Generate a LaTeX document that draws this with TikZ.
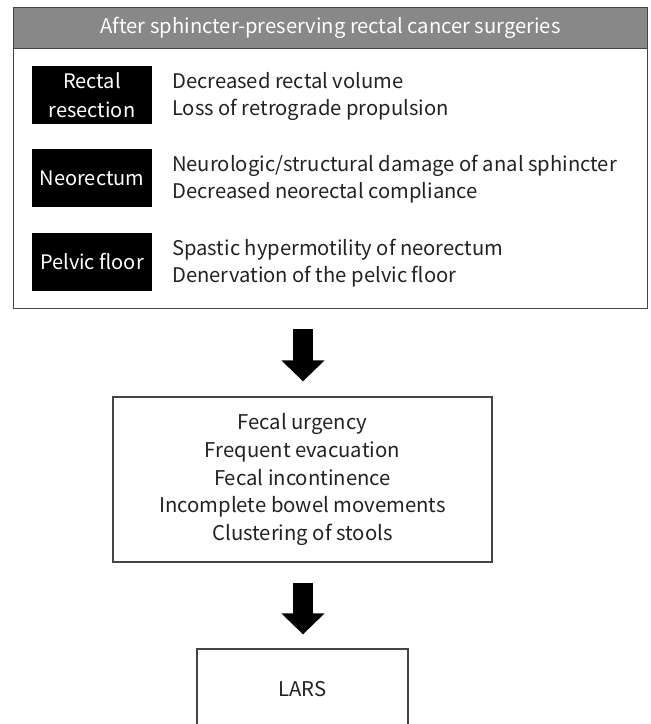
\documentclass[tikz,border=0pt]{standalone}
\usepackage{fontspec}
\setmainfont{Noto Sans CJK KR}
\usetikzlibrary{arrows.meta,positioning}
\definecolor{headgray}{HTML}{888888}
\definecolor{framegray}{HTML}{444444}
\definecolor{txt}{HTML}{222222}
\begin{document}
\begin{tikzpicture}[x=1pt,y=-1pt,
  frame/.style={draw=framegray,line width=1.3pt},
  blackbox/.style={fill=black,text=white,minimum width=120pt,minimum height=58pt,inner sep=0pt,align=center,font=\fontsize{20}{29}\selectfont},
  desc/.style={anchor=west,inner sep=0pt,align=left,text=txt,font=\fontsize{20.2}{27}\selectfont},
  bigarrow/.style={line width=20.5pt,-{Triangle[width=42pt,length=21pt]}}
]
\useasboundingbox (0,0) rectangle (651,724);
% outer box with header
\node[frame,minimum width=634pt,minimum height=301pt,inner sep=0pt,anchor=north west] (outer) at (13,7) {};
\node[fill=headgray,draw=framegray,line width=1.3pt,minimum width=634pt,minimum height=41pt,inner sep=0pt,anchor=north west,text=white,font=\fontsize{20.2}{22}\selectfont] (head) at (13,7) {After sphincter-preserving rectal cancer surgeries};
% black labels
\node[blackbox] (b1) at (92,95) {Rectal\\resection};
\node[blackbox] (b2) at (92,178) {Neorectum};
\node[blackbox] (b3) at (92,262) {Pelvic floor};
\node[desc] (d1) at (172,96) {Decreased rectal volume\\Loss of retrograde propulsion};
\node[desc] (d2) at (172,179) {Neurologic/structural damage of anal sphincter\\Decreased neorectal compliance};
\node[desc] (d3) at (172,263) {Spastic hypermotility of neorectum\\Denervation of the pelvic floor};
% symptoms box
\node[frame,minimum width=379pt,minimum height=165pt,inner sep=0pt,align=center,text=txt,font=\fontsize{20.3}{27.7}\selectfont] (fecal) at (302.5,479.5) {Fecal urgency\\Frequent evacuation\\Fecal incontinence\\Incomplete bowel movements\\Clustering of stools};
% LARS box (runs past the bottom edge)
\node[frame,minimum width=211pt,minimum height=80pt,inner sep=0pt,text=txt,font=\fontsize{20.3}{22}\selectfont] (lars) at (302.5,689) {LARS};
% arrows
\draw[bigarrow] ([yshift=-20pt]outer.south -| 303,0) -- ([yshift=15pt]fecal.north -| 303,0);
\draw[bigarrow] ([yshift=-20pt]fecal.south -| 303,0) -- ([yshift=14pt]lars.north -| 303,0);
\end{tikzpicture}
\end{document}
